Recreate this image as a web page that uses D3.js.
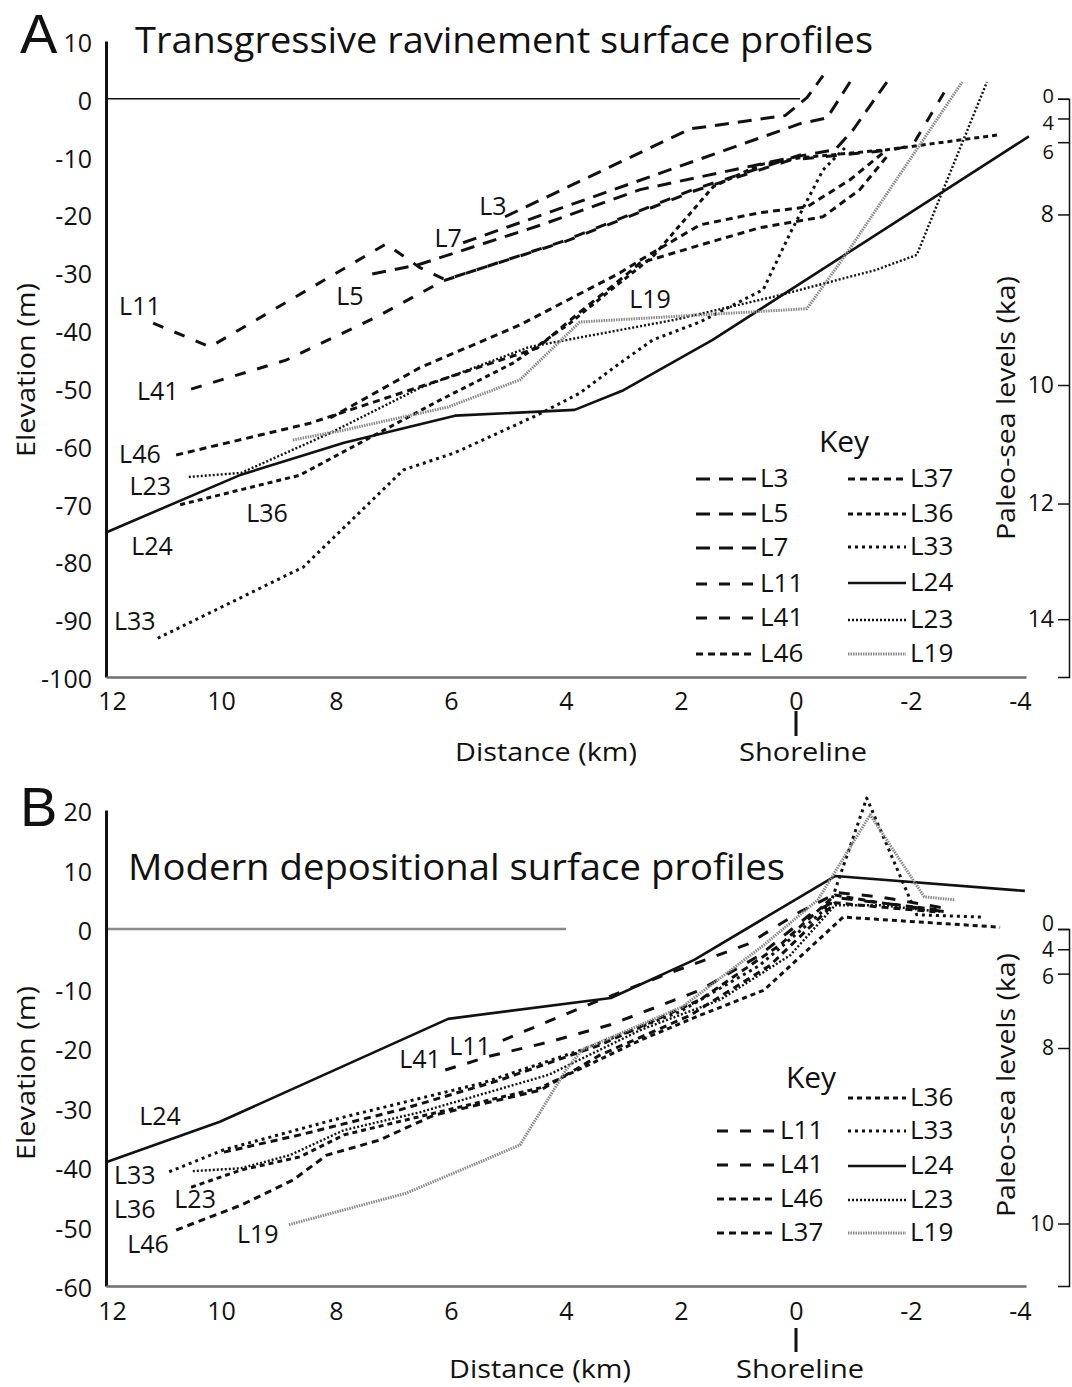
<!DOCTYPE html>
<html>
<head>
<meta charset="utf-8">
<script src="https://cdn.jsdelivr.net/npm/d3@7"></script>
<style>
  body { margin: 0; background: #fff; }
  svg { display: block; }
  text { font-family: "Open Sans", "Noto Sans", sans-serif; fill: #111; }
</style>
</head>
<body>
<svg id="fig" width="1072" height="1387"></svg>
<script>
// ---------------- data ----------------
const distanceTicks = [12, 10, 8, 6, 4, 2, 0, -2, -4];
const elevTicksA = [10, 0, -10, -20, -30, -40, -50, -60, -70, -80, -90, -100];
const elevTicksB = [20, 10, 0, -10, -20, -30, -40, -50, -60];
const paleoAges = [0, 4, 6, 8, 10, 12, 14];               // ka
const paleoLevelElev = [0, -3.4, -7.5, -20, -49.5, -70, -90]; // m, sea level at each age

// Transgressive ravinement surface profiles: [distance km, elevation m]
const ravL3  = [[5.06,-20.4],[1.84,-5.2],[0.19,-2.9],[-0.19,0.2],[-0.47,4.0]];
const ravL5  = [[7.37,-30.3],[6.57,-28.7],[4.43,-21.8],[2.71,-15.7],[0.1,-10.2],[-0.68,-8.8],[-0.99,-5.4],[-1.58,2.9]];
const ravL7  = [[5.79,-24.9],[-0.07,-4.3],[-0.54,-3.3],[-0.94,2.9]];
const ravL11 = [[11.18,-38.8],[10.19,-42.9],[7.13,-25.1],[6.54,-29.2],[6.1,-31.3],[4.02,-24.7],[1.76,-15.9],[0.1,-10.6],[-1.69,-8.8],[-2.03,-8],[-2.68,2.8]];
const ravL41 = [[10.52,-50.2],[8.87,-45.2],[7.29,-37.7],[6.14,-31.5],[4.07,-24.7],[1.79,-15.7],[-0.24,-9.2]];
const ravL46 = [[10.78,-61.6],[8.45,-56.1],[6.54,-49.8],[4.5,-43.1],[3.76,-36.9],[3.06,-31.3],[2.71,-28.4],[1.67,-25.3],[0.63,-22.3],[-0.47,-20.4],[-1.11,-15.7],[-1.58,-10]];
const ravL37 = [[8.1,-55.2],[6.54,-46.5],[4.8,-39.1],[3.06,-30.1],[2.71,-27.9],[1.67,-21.8],[0.63,-19.7],[-0.19,-18.7],[-0.94,-14],[-1.58,-8.8]];
const ravL36 = [[10.71,-70.2],[8.63,-65.1],[6.19,-52.1],[4.92,-45.7],[3.93,-38.8],[3.29,-33.6],[2.49,-27.3],[1.44,-15.2],[0.63,-11.4],[-0.07,-10.2],[-1.58,-8.8],[-3.55,-6.2]];
const ravL33 = [[11.1,-93.3],[8.57,-81],[6.83,-64.2],[5.93,-61.2],[4.5,-54.7],[3.76,-50.9],[3.06,-45.7],[2.49,-41.7],[1.67,-38.6],[0.57,-33],[0.1,-23.2],[-0.47,-12.3],[-0.85,-8.5]];
const ravL24 = [[12,-75],[9.65,-65],[7.86,-59.5],[5.93,-54.8],[3.85,-53.8],[3.0,-50.4],[1.45,-41.7],[-4.05,-6.5]];
const ravL23 = [[10.56,-65.4],[9.65,-64.7],[8.1,-57.8],[6.54,-50],[4.63,-42.9],[2.1,-38.2],[0.42,-34.3],[-1.39,-29.6],[-2.1,-27],[-3.32,2.9]];
const ravL19 = [[8.75,-59],[7.86,-57.3],[6.05,-53.3],[4.8,-48.6],[3.76,-38.6],[-0.19,-36.3],[-0.89,-26.6],[-2.89,2.9]];

// Modern depositional surface profiles: [distance km, elevation m]
const modL24 = [[12,-39.2],[10.02,-32.4],[6.05,-15.1],[3.22,-11.6],[1.77,-5.2],[-0.68,8.9],[-3.98,6.4]];
const modL11 = [[5.1,-18.7],[3.5,-12.3],[2.28,-7.7],[0.83,-2.5],[-0.07,2.9],[-0.73,6.1],[-1.46,5.4],[-2.59,3.5]];
const modL41 = [[6.1,-23.7],[5.3,-21.3],[4.3,-19],[3.23,-16.1],[1.67,-10.3],[0.63,-4.4],[-0.24,2.4],[-0.77,5.2],[-1.81,4],[-2.59,2.9]];
const modL46 = [[10.78,-50.6],[9.65,-46.4],[8.75,-42.2],[8.16,-38],[7.25,-35.5],[6.3,-31.3],[4.45,-27.1],[3.41,-21.2],[1.84,-14.5],[0.45,-6.1],[-0.68,4.4],[-1.46,3.7],[-2.42,2.9]];
const modL37 = [[9.95,-37.5],[8.63,-34.6],[6.89,-30.4],[5.15,-25.4],[3.41,-19.5],[1.67,-11.9],[0.28,-2.7],[-0.68,5.7],[-1.46,4.4],[-2.5,3.2]];
const modL36 = [[10.52,-43.4],[9.65,-40.5],[8.63,-38.3],[7.86,-34.6],[6.66,-31.8],[4.45,-26.7],[2.71,-18.7],[1.67,-14.5],[0.56,-10.3],[-0.82,2],[-3.55,0.3]];
const modL33 = [[10.9,-40.8],[9.95,-37.1],[7.86,-31.6],[5.46,-25.9],[3.72,-20.3],[2.02,-13.9],[0.63,-6.1],[-0.59,4],[-1.23,22],[-2.1,2.4],[-3.25,2]];
const modL23 = [[10.49,-40.7],[9.65,-40.2],[8.8,-38],[7.86,-33.8],[6.54,-30.8],[4.3,-24.5],[2.71,-17],[1.32,-11.9],[0.1,-4.4],[-0.68,4],[-1.46,4],[-2.5,2.9]];
const modL19 = [[8.82,-49.7],[6.78,-44.4],[4.8,-36.3],[4.0,-23.7],[3.72,-20.3],[1.98,-13.1],[0.56,-2.7],[-0.38,4.9],[-1.29,19.2],[-2.23,5.4],[-2.77,4.9]];

const legendColsA = [["L3","L5","L7","L11","L41","L46"], ["L37","L36","L33","L24","L23","L19"]];
const legendColsB = [["L11","L41","L46","L37"], ["L36","L33","L24","L23","L19"]];

// ---------------- styles & layout ----------------
const lineStyle = {
  L3:  { dash: "14,9",  w: 3 },
  L5:  { dash: "14,9",  w: 3 },
  L7:  { dash: "14,9",  w: 3 },
  L11: { dash: "11,12", w: 3 },
  L41: { dash: "11,12", w: 3 },
  L46: { dash: "7,5",   w: 3 },
  L37: { dash: "7,5",   w: 3 },
  L36: { dash: "5,4",   w: 3 },
  L33: { dash: "3,4",   w: 3 },
  L24: { dash: null,    w: 2.6 },
  L23: { dash: "2,2",   w: 2.4 },
  L19: { dash: "1.5,1", w: 3, color: "#8a8a8a" }
};

const panels = [
  {
    letter: "A", letterPos: [20, 53],
    title: "Transgressive ravinement surface profiles", titlePos: [135, 53], titleWidth: 738,
    yDomain: [-100, 10], yRange: [677, 41], yTicks: elevTicksA,
    seaLineTo: -0.07, seaColor: "#111", seaWidth: 1.5,
    series: { L3: ravL3, L5: ravL5, L7: ravL7, L11: ravL11, L41: ravL41, L46: ravL46,
              L37: ravL37, L36: ravL36, L33: ravL33, L24: ravL24, L23: ravL23, L19: ravL19 },
    labelSpots: { L11: [11.41,-35.6], L41: [11.1,-50.3], L46: [11.41,-61.2], L23: [11.23,-66.8],
                  L24: [11.2,-77.2], L33: [11.5,-90.1], L36: [9.2,-71.5], L5: [7.76,-33.9],
                  L7: [6.05,-23.9], L3: [5.27,-18.3], L19: [2.54,-34.4] },
    elevTitle: [25, 370], paleoTitle: [1005, 408],
    xLabelPad: 15, shoreTick: [711, 736], distTitle: [546, 761], shoreTitle: [803, 761],
    paleoCount: 7, paleoFont: [20, 20, 20, 23, 23, 23, 23], paleoLabelShift: [-3, 5, 10, 0, 0, 0, 0],
    legend: { key: [844, 452], cols: legendColsA,
              colX: [[696, 756, 760], [848, 906, 910]],
              rows: [[477, 512, 546, 582, 616, 652], [477, 512, 545, 581, 618, 652]] }
  },
  {
    letter: "B", letterPos: [20, 826],
    title: "Modern depositional surface profiles", titlePos: [128, 880], titleWidth: 657,
    yDomain: [-60, 20], yRange: [1286, 810], yTicks: elevTicksB,
    seaLineTo: 4, seaColor: "#8a8a8a", seaWidth: 2.5,
    series: { L11: modL11, L41: modL41, L46: modL46, L37: modL37, L36: modL36,
              L33: modL33, L24: modL24, L23: modL23, L19: modL19 },
    labelSpots: { L24: [11.06,-31.3], L33: [11.5,-41.2], L36: [11.5,-46.9], L23: [10.45,-45.2],
                  L46: [11.27,-52.8], L19: [9.36,-51.1], L41: [6.54,-21.7], L11: [5.67,-19.5] },
    elevTitle: [25, 1073], paleoTitle: [1005, 1085],
    xLabelPad: 16, shoreTick: [1328, 1352], distTitle: [540, 1378], shoreTitle: [800, 1378],
    paleoCount: 5, paleoFont: [21, 21, 21, 21, 21], paleoLabelShift: [-5, 1, 3, 0, 0],
    legend: { key: [811, 1088], cols: legendColsB,
              colX: [[717, 777, 780], [848, 906, 910]],
              rows: [[1129, 1163, 1197, 1231], [1096, 1129, 1164, 1198, 1231]] }
  }
];

const svg = d3.select("#fig");
const x = d3.scaleLinear().domain([12, -4]).range([106, 1026]);
const FONT = '"Open Sans", "Noto Sans", sans-serif';
const plainNumber = d => String(d);

function fitWidth(sel, w) {
  const cur = sel.node().getComputedTextLength();
  if (Math.abs(cur - w) > 2) sel.attr("textLength", w).attr("lengthAdjust", "spacingAndGlyphs");
  return sel;
}

function applyStyle(sel, id) {
  const s = lineStyle[id];
  sel.attr("fill", "none")
     .attr("stroke", s.color || "#111")
     .attr("stroke-width", s.w)
     .attr("stroke-dasharray", s.dash)
     .attr("stroke-linejoin", "round");
}

panels.forEach(p => {
  const g = svg.append("g");
  const y = d3.scaleLinear().domain(p.yDomain).range(p.yRange);
  const line = d3.line().x(d => x(d[0])).y(d => y(d[1]));

  // panel letter and title
  g.append("text").attr("x", p.letterPos[0]).attr("y", p.letterPos[1])
    .style("font-family", '"Liberation Sans", Arial, sans-serif')
    .attr("font-size", 56).text(p.letter);
  fitWidth(g.append("text").attr("x", p.titlePos[0]).attr("y", p.titlePos[1])
    .attr("font-size", 36).text(p.title), p.titleWidth);

  // present sea level
  g.append("line")
    .attr("x1", x(12)).attr("x2", x(p.seaLineTo))
    .attr("y1", y(0)).attr("y2", y(0))
    .attr("stroke", p.seaColor).attr("stroke-width", p.seaWidth);

  // profiles
  Object.keys(p.series).forEach(id => {
    g.append("path").datum(p.series[id]).attr("d", line).call(applyStyle, id);
  });

  // profile labels
  Object.entries(p.labelSpots).forEach(([id, pos]) => {
    g.append("text").attr("x", x(pos[0])).attr("y", y(pos[1]))
      .attr("text-anchor", "middle").attr("dominant-baseline", "central")
      .attr("font-size", 25).text(id);
  });

  // left elevation axis
  const left = g.append("g").attr("transform", `translate(${x(12)},0)`)
    .call(d3.axisLeft(y).tickValues(p.yTicks).tickSize(0).tickPadding(14).tickFormat(plainNumber));
  left.select(".domain").attr("stroke", "#111").attr("stroke-width", 3);
  left.selectAll("text").attr("font-size", 25).attr("dy", "0.42em")
    .style("font-family", FONT).attr("fill", "#111");

  // bottom distance axis
  const bottom = g.append("g").attr("transform", `translate(0,${p.yRange[0]})`)
    .call(d3.axisBottom(x).tickValues(distanceTicks).tickSize(0).tickPadding(p.xLabelPad).tickFormat(plainNumber));
  bottom.select(".domain").attr("stroke", "#6e6e6e").attr("stroke-width", 2.5);
  bottom.selectAll("text").attr("font-size", 25)
    .style("font-family", FONT).attr("fill", "#111")
    .attr("dx", d => d === 12 ? 6 : d === -4 ? -6 : 0);

  // right paleo sea-level axis (ages placed at their sea-level elevation)
  const ages = paleoAges.slice(0, p.paleoCount);
  const levels = paleoLevelElev.slice(0, p.paleoCount);
  const yPaleo = y.copy().domain([p.yDomain[0], 0]).range([p.yRange[0], y(0)]);
  const right = g.append("g").attr("transform", "translate(1069,0)")
    .call(d3.axisLeft(yPaleo).tickValues(levels).tickSize(11).tickPadding(4)
      .tickFormat((v, i) => ages[i]));
  right.select(".domain").attr("stroke", "#111").attr("stroke-width", 1.5);
  right.selectAll(".tick line").attr("stroke", "#111").attr("stroke-width", 1.5);
  right.selectAll("text")
    .attr("font-size", (v, i) => p.paleoFont[i])
    .style("font-family", FONT).attr("fill", "#111")
    .attr("y", (v, i) => p.paleoLabelShift[i]);

  // axis titles
  fitWidth(g.append("text").attr("transform", `translate(${p.elevTitle[0]},${p.elevTitle[1]}) rotate(-90)`)
    .attr("text-anchor", "middle").attr("dominant-baseline", "central")
    .attr("font-size", 26).text("Elevation (m)"), 174);
  fitWidth(g.append("text").attr("transform", `translate(${p.paleoTitle[0]},${p.paleoTitle[1]}) rotate(-90)`)
    .attr("text-anchor", "middle").attr("dominant-baseline", "central")
    .attr("font-size", 26).text("Paleo-sea levels (ka)"), 264);
  fitWidth(g.append("text").attr("x", p.distTitle[0] - 91).attr("y", p.distTitle[1])
    .attr("font-size", 26).text("Distance (km)"), 182);
  g.append("line").attr("x1", x(0)).attr("x2", x(0))
    .attr("y1", p.shoreTick[0]).attr("y2", p.shoreTick[1])
    .attr("stroke", "#111").attr("stroke-width", 3);
  fitWidth(g.append("text").attr("x", p.shoreTitle[0] - 64).attr("y", p.shoreTitle[1])
    .attr("font-size", 26).text("Shoreline"), 128);

  // key
  const L = p.legend;
  g.append("text").attr("x", L.key[0]).attr("y", L.key[1]).attr("text-anchor", "middle")
    .attr("font-size", 30).text("Key");
  L.cols.forEach((col, ci) => {
    const [sx0, sx1, tx] = L.colX[ci];
    col.forEach((id, ri) => {
      const ry = L.rows[ci][ri];
      g.append("line").attr("x1", sx0).attr("x2", sx1).attr("y1", ry + 2).attr("y2", ry + 2)
        .call(applyStyle, id);
      g.append("text").attr("x", tx).attr("y", ry).attr("dominant-baseline", "central")
        .attr("font-size", 26).text(id);
    });
  });
});
</script>
</body>
</html>
